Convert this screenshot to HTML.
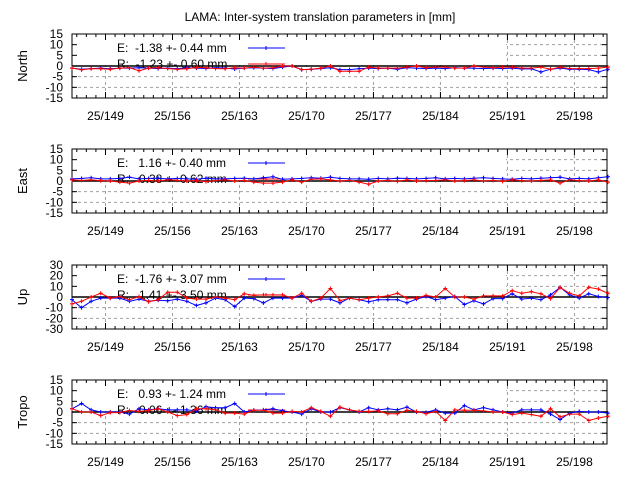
<!DOCTYPE html>
<html><head><meta charset="utf-8">
<style>
html,body{margin:0;padding:0;background:#fff;}
svg{display:block;font-family:"Liberation Sans",sans-serif;}
svg text{white-space:pre;}
</style></head>
<body>
<svg id="chart" width="640" height="480" viewBox="0 0 640 480" xmlns="http://www.w3.org/2000/svg">
<rect width="640" height="480" fill="#fff"/>
<text x="320" y="21" text-anchor="middle" font-size="12">LAMA: Inter-system translation parameters in [mm]</text>
</svg>
<script>
const xTickDays = [149,156,163,170,177,184,191,198];
const xTickLabels = ["25/149","25/156","25/163","25/170","25/177","25/184","25/191","25/198"];
const firstDay = 145.5;
const panelNames = ["North","East","Up","Tropo"];
const yMaxes = [15,15,30,15];
const yStepsArr = [5,5,10,5];
const legendE = ["E:  -1.38 +- 0.44 mm","E:   1.16 +- 0.40 mm","E:  -1.76 +- 3.07 mm","E:   0.93 +- 1.24 mm"];
const legendR = ["R:  -1.23 +- 0.60 mm","R:   0.38 +- 0.62 mm","R:   1.41 +- 3.50 mm","R:   0.06 +- 1.36 mm"];

const northE = [-1,-1.5,-1.2,-1,-1.3,-1,-1,-0.8,-1,-1.2,-1,-1.2,-0.8,-1,-1.2,-0.8,-1,-1.4,-1,-0.8,-1,-1.2,-0.5,0,-1.7,-1.5,-1.2,-0.8,-1.7,-1.7,-1.3,-1,-1.2,-1,-1.5,-0.8,-1,-1.2,-1,-1.2,-0.8,-1,-1,-1.2,-1,-1.2,-1,-1.4,-1.3,-2.8,-1.5,-1,-1.5,-1.5,-1.7,-2.8,-1.5];
const northR = [-1,-1.8,-1.3,-1.3,-1.5,-1,-0.8,-2.2,-1,-0.8,-1.2,-1.5,-1.3,-0.7,-0.8,-1.2,-1.3,-0.8,-1,-0.5,-1,-0.8,0,0,-1.7,-1.5,-1,0,-2.5,-2.5,-2.5,-0.5,-1,-1,-1,-0.5,0,-0.8,-0.5,-0.5,-1,-1,0,-0.5,-0.8,-0.5,-0.5,-1,-1,-0.5,-1.5,-0.5,-1.2,-1.2,-1.2,-1,-0.5];
const eastE = [1,1.2,1.5,1,1,1.2,1.8,1,1.2,1.3,1,1.2,1,0.8,1.3,1,1,1.2,1.3,1,1.5,2,0.8,1,1.2,1.5,1.3,1.8,1.2,1,1,0.8,1.2,1,1.3,1.2,1,1.2,1.5,1,1.2,1,1.3,1.5,1.2,1,0.8,1.2,1,1.3,1.5,1.8,1,1.2,1,1.5,2];
const eastR = [0.5,0.3,0.5,0.2,0,-0.5,-1,0,0.3,0,0.5,0.3,0,0.2,-0.3,0.2,0.5,0,0.3,-0.5,-1,-1,-0.5,0.5,-0.5,0.8,1,0.5,0,0.3,-0.5,-1.5,0,0.3,-0.2,0.5,0,0.2,0.3,0.5,0,0.2,0.5,0,0.3,-0.2,0.5,0.2,0,0.3,0.5,-1,0.5,0.2,0,0.5,-0.5];
const upE = [-2.5,-10,-4,-1,-1,-1,-4,-2,-4,-3,-3.5,-2,-4,-8,-5.5,-1,-2.5,-9,-1,-1.5,-5.5,-1,-1,-1,1.5,-4,-2,-2,-5.5,-1,-2.5,-4.5,-2.5,-2.5,-2.5,-5.5,-2,0.5,-2.5,-1,0.5,-7,-3.5,-6.5,-1.5,-1.5,3,-2,-1,-2.5,2,9,2,-1,3,0.5,-0.5];
const upR = [-6.5,-4,0,3.5,-1,0.5,-2.5,0.5,-4.5,-2.5,4.5,4.5,-1,-2,-2,0,-1,-2.5,3,1.5,2,2,2,-1,3.5,-4,-1,8,-3.5,-1,-2.5,-1,0,1,3.5,-1,-1,1.5,0,8,0,0,-2,1,1,1,6,3.5,5,3,-1.5,9,3.5,1,9,7.5,3.5];
const tropoE = [1.5,4,1,0,0,0,-1,1.5,1,1.5,1,1,1,0.5,2.5,2,2,4,0,0.8,1,1.5,0.5,0,-1,1.5,0,0,2,1,0,2,1,1.5,1,2.3,0,-0.2,1,-0.5,-0.5,3,1,2,1,0,-0.5,1,1,1,-1,-3.5,-0.5,0.3,0,0,-0.5];
const tropoR = [1.5,0,0,-1.7,-0.3,-0.3,0.7,0.3,0.7,1.5,0,-1.7,-1.2,1.5,1.5,1,-0.5,-0.5,-1,0.8,0.8,-0.5,-0.5,0.3,0,2,0.3,-2,2.3,1,0.3,0.3,0.5,-0.8,-0.8,0.8,0.3,-0.8,0.3,-4,1,0.8,0.8,0.5,0,0,-1.2,-0.5,-1.2,-2,1.5,-2.3,-1,-1,-4,-2.8,-2];

const seriesE = [northE,eastE,upE,tropoE];
const seriesR = [northR,eastR,upR,tropoR];
const panelTops = [34,149,265,380];
const panelH = 64;
const X0 = 72, X1 = 607, pxPerDay = 9.57;
const svg = document.getElementById('chart');
const NS = 'http://www.w3.org/2000/svg';
function mk(tag, attrs, parent){
  const e = document.createElementNS(NS, tag);
  for (const k in attrs) e.setAttribute(k, attrs[k]);
  (parent||svg).appendChild(e);
  return e;
}
function xScale(d){ return X0 + (d - firstDay) * pxPerDay; }

for (let p = 0; p < 4; p++) {
  const top = panelTops[p], bot = top + panelH, ymax = yMaxes[p], ystep = yStepsArr[p];
  const yScale = v => bot - (v + ymax) / (2 * ymax) * panelH;
  const zeroY = yScale(0);
  const g = mk('g', {});
  
  
  for (let v = -ymax + ystep; v < ymax; v += ystep) {
    if (v === 0) continue;
    const gl = mk('line', {x1:X0, x2:X1, y1:yScale(v), y2:yScale(v), stroke:'#a0a0a0', 'stroke-dasharray':'3,3', 'stroke-width':1}, g);
    
    
  }
  xTickDays.forEach(d => {
    const gl = mk('line', {x1:xScale(d), x2:xScale(d), y1:top, y2:bot, stroke:'#a0a0a0', 'stroke-dasharray':'3,3', 'stroke-width':1}, g);
    
    
  });
  const lb = mk('rect', {x:X0+1, y:top+1, width:433, height:zeroY - top - 2, fill:'#fff'}, g);
  
  
  const fr = mk('rect', {x:X0, y:top, width:X1-X0, height:panelH, fill:'none', stroke:'#000', 'stroke-width':1}, g);
  
  
  for (let d = 146; d <= 201; d++) {
    const major = xTickDays.includes(d);
    const len = major ? 6 : 3;
    mk('line', {x1:xScale(d), x2:xScale(d), y1:bot, y2:bot-len, stroke:'#000'}, g);
    mk('line', {x1:xScale(d), x2:xScale(d), y1:top, y2:top+len, stroke:'#000'}, g);
  }
  xTickDays.forEach((d, i) => {
    const t = mk('text', {x:xScale(d), y:bot+22, 'text-anchor':'middle', 'font-size':12}, g);
    t.textContent = xTickLabels[i];
    
    
  });
  for (let v = -ymax; v <= ymax; v += ystep) {
    const y = yScale(v);
    mk('line', {x1:X0, x2:X0+5, y1:y, y2:y, stroke:'#000'}, g);
    mk('line', {x1:X1, x2:X1-5, y1:y, y2:y, stroke:'#000'}, g);
    const t = mk('text', {x:63, y:y+4, 'text-anchor':'end', 'font-size':12}, g);
    t.textContent = String(v);
    
    
  }
  const yl = mk('text', {x:0, y:0, 'text-anchor':'middle', 'font-size':13, transform:'translate(27,' + (top+panelH/2) + ') rotate(-90)'}, g);
  yl.textContent = panelNames[p];
  
  
  const zl = mk('line', {x1:X0, x2:X1, y1:zeroY, y2:zeroY, stroke:'#000', 'stroke-width':1.5}, g);
  
  
  const le = mk('text', {x:117, y:top+18, 'font-size':12}, g);
  le.textContent = legendE[p];
  
  
  mk('line', {x1:248, x2:285, y1:top+14, y2:top+14, stroke:'#0000ff'}, g);
  mk('line', {x1:266, x2:266, y1:top+12, y2:top+16, stroke:'#0000ff'}, g);
  const lr = mk('text', {x:117, y:top+34, 'font-size':12}, g);
  lr.textContent = legendR[p];
  
  
  mk('line', {x1:248, x2:285, y1:top+30, y2:top+30, stroke:'#ff0000'}, g);
  mk('line', {x1:266, x2:266, y1:top+28, y2:top+32, stroke:'#ff0000'}, g);
  [[seriesE[p], '#0000ff', 'series-e'], [seriesR[p], '#ff0000', 'series-r']].forEach(([arr, col, nm]) => {
    const pts = arr.map((v, i) => xScale(firstDay + i).toFixed(1) + ',' + yScale(v).toFixed(1)).join(' ');
    const pl = mk('polyline', {points:pts, fill:'none', stroke:col, 'stroke-width':1}, g);
    
    
    arr.forEach((v, i) => {
      const x = xScale(firstDay + i), y = yScale(v);
      const m = mk('path', {d:'M'+(x-2)+','+y+'H'+(x+2)+'M'+x+','+(y-2)+'V'+(y+2), stroke:col, 'stroke-width':1}, g);
      
      
    });
  });
}
</script>
</body></html>
